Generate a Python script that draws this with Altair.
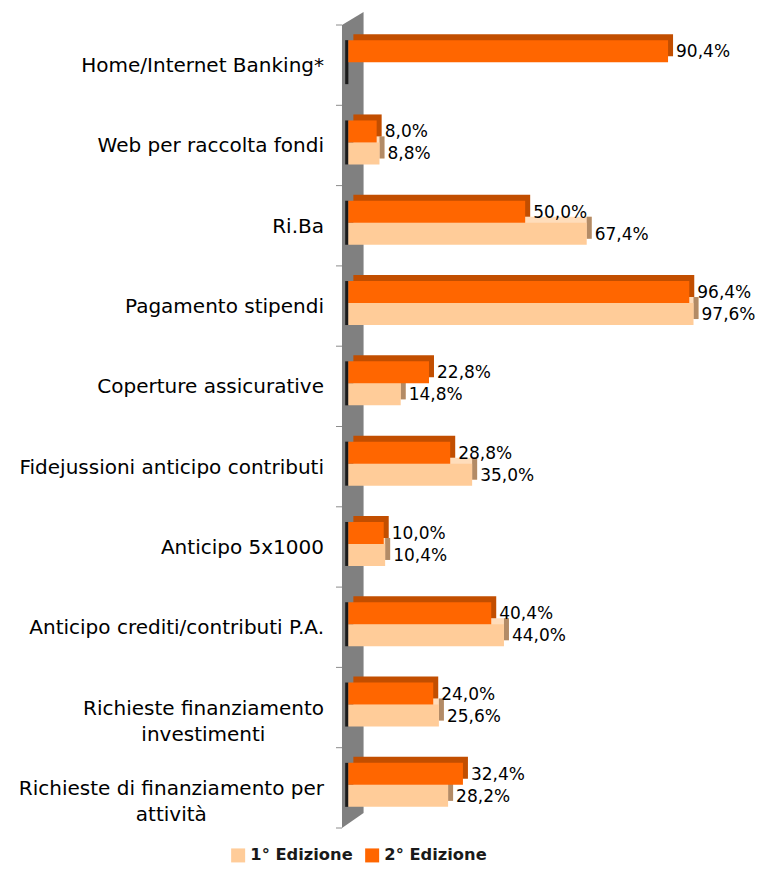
import altair as alt
import pandas as pd

PAD = "\u2800"  # blank glyph used to centre the second line of wrapped labels

categories = [
    "Home/Internet Banking*",
    "Web per raccolta fondi",
    "Ri.Ba",
    "Pagamento stipendi",
    "Coperture assicurative",
    "Fidejussioni anticipo contributi",
    "Anticipo 5x1000",
    "Anticipo crediti/contributi P.A.",
    "Richieste finanziamento\ninvestimenti" + PAD * 4,
    "Richieste di finanziamento per\nattività" + PAD * 8,
]
ed1 = [None, 8.8, 67.4, 97.6, 14.8, 35.0, 10.4, 44.0, 25.6, 28.2]
ed2 = [90.4, 8.0, 50.0, 96.4, 22.8, 28.8, 10.0, 40.4, 24.0, 32.4]
series = ["1° Edizione", "2° Edizione"]

LIGHT, LIGHT_TOP, LIGHT_SIDE = "#FFCC99", "#FFDDBB", "#B38B66"
DARK, DARK_SIDE = "#FF6600", "#C24E00"
WALL = "#808080"
FONT = "DejaVu Sans"

# 3D wall outline (unit symbol path, scaled by the mark size)
WALL_PATH = "M -0.0257 -0.956 L 0.0257 -0.987 L 0.0257 0.920 L -0.0257 0.956 Z"

rows = []
for c, a, b in zip(categories, ed1, ed2):
    rows.append({"cat": c, "series": series[0], "v": a})
    rows.append({"cat": c, "series": series[1], "v": b})
df = pd.DataFrame(rows)
cat_df = pd.DataFrame({"cat": categories})

xs = alt.Scale(domain=[-1.8, 100], nice=False, zero=False)
ys = alt.Scale(domain=categories, paddingInner=0, paddingOuter=0)

Y = alt.Y("cat:N", scale=ys, sort=categories, axis=None)
XV = alt.X("v:Q", scale=xs, axis=None)
XWALL = alt.X(datum=-1.8, scale=xs, axis=None)

base = alt.Chart(df).transform_filter("isValid(datum.v)")
light = base.transform_filter(alt.datum.series == series[0])
dark = base.transform_filter(alt.datum.series == series[1])

color = alt.Color(
    "series:N",
    scale=alt.Scale(domain=series, range=[LIGHT, DARK]),
    legend=alt.Legend(
        title=None,
        orient="none",
        direction="horizontal",
        legendX=-112,
        legendY=822,
        symbolType="square",
        symbolSize=196,
        symbolStrokeWidth=0,
        labelFont=FONT,
        labelFontSize=16.3,
        labelFontWeight="bold",
        labelColor="#1a1a1a",
        labelOffset=4,
        columnPadding=11,
    ),
)

wall = alt.Chart(pd.DataFrame({"w": [0]})).mark_point(
    shape=WALL_PATH, size=705600, filled=True, color=WALL, opacity=1, strokeWidth=0
).encode(
    x=alt.X(datum=1.25, scale=xs, axis=None),
    y=alt.Y(datum=categories[5], type="nominal", bandPosition=0, scale=ys, axis=None),
)

ticks = alt.Chart(cat_df).mark_rule(color="#8c8c8c", strokeWidth=1, xOffset=-6).encode(
    y=alt.Y("cat:N", scale=ys, sort=categories, axis=None, bandPosition=0),
    x=XWALL,
    x2=alt.datum(-1.8),
)
tick_last = alt.Chart(pd.DataFrame({"cat": categories[-1:]})).mark_rule(
    color="#8c8c8c", strokeWidth=1, xOffset=-6
).encode(
    y=alt.Y("cat:N", scale=ys, sort=categories, axis=None, bandPosition=1),
    x=XWALL,
    x2=alt.datum(-1.8),
)

cat_labels = alt.Chart(cat_df).mark_text(
    align="right", baseline="middle", dx=-18, dy=1, font=FONT, fontSize=20,
    lineBreak="\n", lineHeight=26, color="#000000",
).encode(y=Y, x=XWALL, text="cat:N")

strip = alt.Chart(cat_df).mark_bar(
    color="#1a1a1a", size=44, yOffset=-3
).encode(y=Y, x=alt.X(datum=-0.9, scale=xs, axis=None), x2=alt.datum(0))

light_back = light.mark_bar(
    color=LIGHT_TOP, size=22, yOffset=2, xOffset=5, x2Offset=5
).encode(y=Y, x=XV)

light_side = light.mark_bar(
    color=LIGHT_SIDE, size=22, yOffset=2, x2Offset=5
).encode(y=Y, x=XV, x2=alt.X2("v:Q"))

light_front = light.mark_bar(size=22, yOffset=8).encode(y=Y, x=XV, color=color)

dark_back = dark.mark_bar(
    color=DARK_SIDE, size=22, yOffset=-20, xOffset=5, x2Offset=5
).encode(y=Y, x=XV)

dark_front = dark.mark_bar(size=22, yOffset=-14).encode(y=Y, x=XV, color=color)

lab_expr = "replace(format(datum.v, '.1f'), '.', ',') + '%'"
light_text = light.transform_calculate(lab=lab_expr).mark_text(
    align="left", baseline="middle", dx=8, yOffset=9, font=FONT, fontSize=17, color="#000000"
).encode(y=Y, x=XV, text="lab:N")

dark_text = dark.transform_calculate(lab=lab_expr).mark_text(
    align="left", baseline="middle", dx=8, yOffset=-13, font=FONT, fontSize=17, color="#000000"
).encode(y=Y, x=XV, text="lab:N")

chart = (
    alt.layer(
        wall, ticks, tick_last, cat_labels, strip, light_back, light_side, light_front,
        dark_back, dark_front, light_text, dark_text,
    )
    .properties(
        width=360,
        height=803,
        autosize="none",
        padding={"left": 334, "top": 17, "right": 53, "bottom": 36},
    )
    .configure_view(strokeWidth=0)
)

chart.save("out.html", embed_options={"renderer": "svg", "actions": False})
